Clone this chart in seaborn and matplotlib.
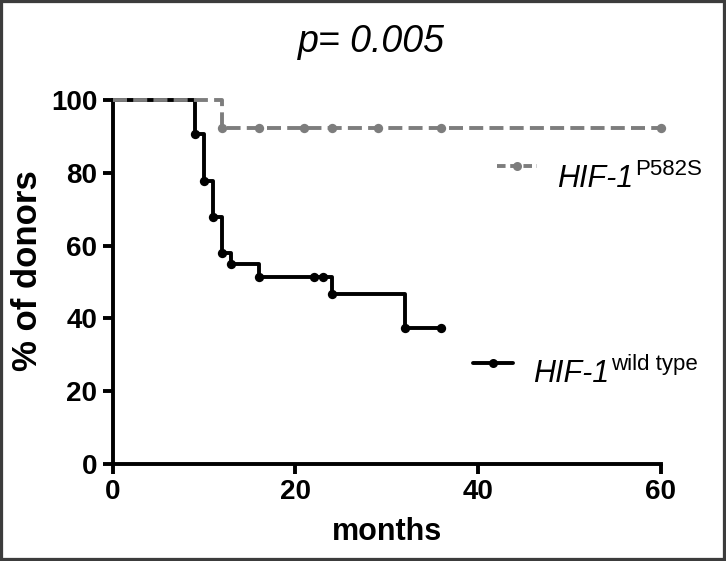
import matplotlib
matplotlib.use("Agg")
import matplotlib.pyplot as plt
import seaborn as sns
from matplotlib.lines import Line2D
from matplotlib.patches import Rectangle

# survival curves (months, % of donors)
wt_months = [0, 9, 10, 11, 12, 13, 16, 22, 23, 24, 32, 36]
wt_percent = [100, 90.7, 77.7, 67.8, 58.0, 54.9, 51.4, 51.4, 51.4, 46.6, 37.4, 37.4]
mut_months = [0, 12, 16, 21, 24, 29, 36, 60]
mut_percent = [100, 92.3, 92.3, 92.3, 92.3, 92.3, 92.3, 92.3]

x_ticks = [0, 20, 40, 60]
y_ticks = [0, 20, 40, 60, 80, 100]

wt_label = "HIF-1"
wt_sup = "wild type"
mut_label = "HIF-1"
mut_sup = "P582S"
title = "p= 0.005"

sns.set_style("ticks", {"axes.edgecolor": "black", "text.color": "black",
                        "axes.labelcolor": "black", "xtick.color": "black",
                        "ytick.color": "black"})
plt.rcParams["font.family"] = ["Liberation Sans", "DejaVu Sans"]

LW = 2.8
GRAY = "#7d7d7d"

fig = plt.figure(figsize=(7.26, 5.61), dpi=100)
ax = fig.add_axes([0.1552, 0.1729, 0.7548, 0.6488])

sns.lineplot(x=wt_months, y=wt_percent, ax=ax, color="black", linewidth=LW,
             drawstyle="steps-post", estimator=None, clip_on=False, zorder=3)
sns.scatterplot(x=wt_months[1:], y=wt_percent[1:], ax=ax, color="black",
                s=45, linewidth=0, clip_on=False, zorder=4)

sns.lineplot(x=mut_months, y=mut_percent, ax=ax, color=GRAY, linewidth=LW,
             drawstyle="steps-post", estimator=None, clip_on=False, zorder=5,
             linestyle=(0, (3.6, 1.6)))
sns.scatterplot(x=mut_months[1:], y=mut_percent[1:], ax=ax, color=GRAY,
                s=45, linewidth=0, clip_on=False, zorder=6)

ax.set_xlim(0, 60)
ax.set_ylim(0, 100)
ax.set_xticks(x_ticks)
ax.set_yticks(y_ticks)
sns.despine(ax=ax)
for side in ["left", "bottom"]:
    ax.spines[side].set_linewidth(LW)
ax.tick_params(axis="both", direction="out", length=7, width=LW,
               labelsize=20, pad=4, colors="black")
for lab in ax.get_xticklabels() + ax.get_yticklabels():
    lab.set_fontweight("bold")

ax.set_xlabel("months", fontsize=22, fontweight="bold")
ax.set_ylabel("% of donors", fontsize=25, fontweight="bold")
ax.xaxis.set_label_coords(0.5, -0.145)
ax.yaxis.set_label_coords(-0.125, 0.53)

fig.text(0.512, 0.907, title, fontsize=27, style="italic", ha="center",
         va="baseline")

# hand-made legend entries
def legend_entry(x0, x1, y, color, ls, lx, ly, main, sup):
    fig.add_artist(Line2D([x0 / 726, x1 / 726], [1 - y / 561, 1 - y / 561],
                          color=color, lw=LW, linestyle=ls))
    xm = (x0 + x1) / 2 / 726
    fig.add_artist(Line2D([xm], [1 - y / 561], color=color, marker="o",
                          markersize=6.5, markeredgewidth=0, linestyle="none"))
    t = fig.text(lx / 726, 1 - ly / 561, main, fontsize=22, style="italic",
                 va="baseline", ha="left")
    ax.annotate(sup, xy=(1, 0), xycoords=t, xytext=(1, 14),
                textcoords="offset points", fontsize=16, va="baseline",
                ha="left")

legend_entry(497, 537, 166, GRAY, (0, (2.2, 1.2)), 557, 187, mut_label, mut_sup)
legend_entry(473, 513, 363, "black", "-", 533, 382, wt_label, wt_sup)

fig.add_artist(Rectangle((0, 0), 1, 1, transform=fig.transFigure, fill=False,
                         edgecolor="#3c3c3c", lw=4.5))

fig.savefig("out.png", dpi=100)
plt.close(fig)
